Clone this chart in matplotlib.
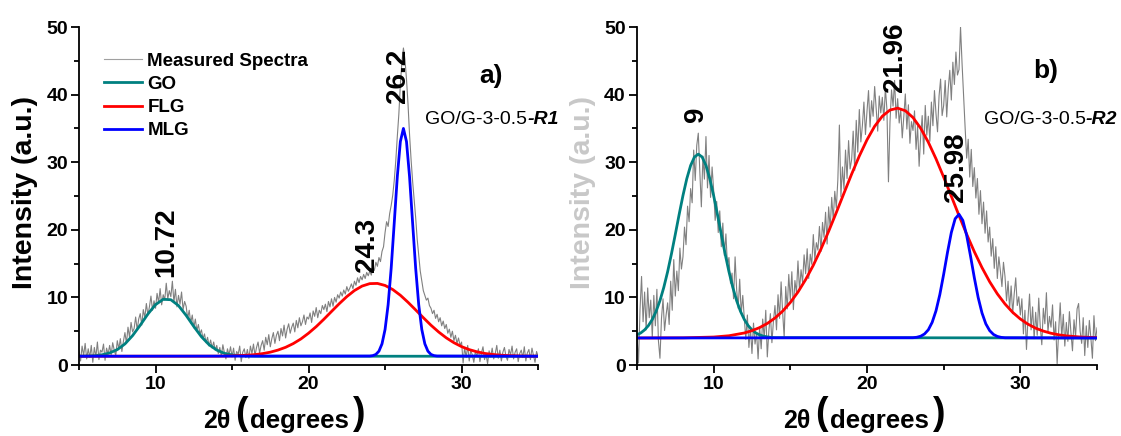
import numpy as np
import matplotlib
matplotlib.use('Agg')
import matplotlib.pyplot as plt
from matplotlib.ticker import MultipleLocator

plt.rcParams['font.family'] = ['Liberation Sans', 'DejaVu Sans']
plt.rcParams['font.weight'] = 'bold'

# 2theta sampling of the measured spectra (0.1 deg steps)
two_theta = np.linspace(5, 35, 301)

# measured spectra, sample R1 (one row per degree)
spec_a = [
    2.1, 0.6, 2.8, 1.4, 3.2, 0.9, 2.4, 1.1, 2.9, 0.4,
    2.6, 1.2, 3.4, 0.8, 2.2, 1.9, 3.1, 0.7, 2.5, 1.6,
    2.9, 1.5, 3.3, 2.2, 1.4, 3.6, 2.4, 3.9, 2.0, 3.5,
    4.8, 3.2, 5.6, 4.1, 6.3, 4.9, 5.4, 7.1, 5.2, 6.8,
    7.6, 5.9, 8.2, 7.0, 9.1, 7.4, 8.6, 10.2, 8.1, 9.5,
    8.4, 10.6, 9.2, 11.3, 8.9, 10.4, 9.6, 12.1, 9.8, 11.0,
    10.1, 12.4, 9.3, 11.2, 8.6, 10.3, 9.0, 10.8, 8.2, 9.4,
    8.7, 6.9, 8.1, 6.2, 7.4, 5.5, 6.8, 5.1, 6.0, 4.6,
    5.2, 3.9, 4.6, 3.3, 4.1, 2.8, 3.7, 2.5, 3.4, 2.2,
    2.9, 1.7, 2.6, 1.3, 3.0, 1.8, 0.9, 2.4, 1.5, 2.7,
    1.2, 2.5, 0.7, 2.0, 1.6, 2.8, 0.5, 1.9, 2.4, 1.1,
    2.3, 1.0, 2.8, 1.7, 3.1, 1.4, 2.6, 3.4, 1.8, 2.9,
    3.6, 2.2, 4.1, 3.0, 4.5, 2.7, 3.9, 4.8, 3.2, 4.4,
    5.0, 3.6, 5.4, 4.3, 5.9, 4.0, 5.3, 6.1, 4.7, 5.6,
    6.2, 4.9, 6.6, 5.5, 7.0, 5.8, 6.4, 7.4, 6.0, 7.1,
    6.8, 7.7, 6.3, 8.0, 7.2, 8.5, 7.0, 8.1, 7.6, 8.8,
    8.2, 9.0, 7.9, 9.4, 8.6, 9.8, 8.7, 10.0, 9.3, 10.4,
    9.9, 10.8, 10.2, 11.1, 10.5, 11.6, 10.9, 11.4, 12.0, 11.3,
    12.4, 11.8, 12.9, 12.2, 13.1, 12.6, 13.4, 12.8, 13.7, 13.2,
    13.9, 13.3, 14.5, 14.0, 15.2, 14.6, 15.9, 15.3, 16.8, 17.5,
    19.6, 21.2, 20.5, 22.4, 23.6, 25.1, 27.3, 30.2, 33.8, 37.1,
    41.5, 44.8, 46.9, 45.2, 42.3, 38.6, 34.1, 30.4, 27.2, 24.5,
    21.8, 18.6, 16.3, 13.9, 12.4, 11.0, 10.3, 9.6, 9.9, 8.8,
    8.4, 7.6, 8.1, 6.9, 7.5, 6.4, 7.0, 5.8, 6.5, 5.4,
    6.0, 4.7, 5.3, 4.1, 5.0, 3.6, 4.4, 3.2, 4.0, 2.9,
    3.4, 0.3, 2.6, 1.1, 2.9, 0.6, 2.2, 1.5, 0.4, 2.0,
    1.3, 2.4, 0.5, 1.8, 2.7, 0.8, 1.6, 0.2, 2.1, 1.2,
    2.5, 0.9, 1.7, 2.9, 1.0, 2.2, 0.6, 1.9, 2.6, 1.3,
    0.7, 2.3, 1.5, 2.8, 0.9, 1.9, 2.4, 0.5, 1.7, 2.2,
    1.1, 2.7, 0.6, 1.8, 2.3, 0.8, 2.5, 1.4, 0.4, 2.0,
    1.3,
]

# measured spectra, sample R2
spec_b = [
    4.5, 0.3, 8.2, 13.1, 6.4, 10.8, 5.2, 11.4, 7.0, 9.6,
    4.1, 10.3, 5.8, 11.2, 3.6, 1.0, 6.9, 9.8, 5.1, 7.4,
    9.2, 6.0, 12.4, 8.1, 15.6, 10.2, 13.9, 11.0, 17.3, 14.2,
    16.0, 20.4, 17.8, 23.5, 21.2, 26.1, 24.0, 31.8, 27.3, 32.5,
    34.3, 28.6, 23.4, 30.9, 27.5, 33.8, 26.2, 31.0, 24.8, 29.3,
    25.9, 21.4, 24.2, 19.6, 22.8, 17.5, 21.0, 16.2, 19.4, 14.8,
    15.9, 12.1, 13.6, 9.8, 16.0, 11.2, 8.4, 12.7, 7.6, 10.3,
    6.9, 3.8, 7.4, 2.6, 5.5, 1.7, 6.2, 3.1, 4.8, 0.9,
    5.6, 2.4, 6.8, 3.9, 8.1, 1.2, 5.0, 7.6, 3.3, 6.5,
    8.8, 5.2, 10.4, 6.9, 12.3, 7.8, 4.1, 11.6, 8.3, 13.4,
    9.6, 13.8, 8.2, 12.5, 10.7, 15.4, 11.0, 14.1, 12.2, 16.3,
    13.5, 17.2, 12.8, 16.4, 14.9, 19.3, 15.6, 18.1, 17.0, 20.5,
    16.8, 21.1, 18.9, 22.6, 17.9, 23.4, 20.2, 24.8, 21.5, 25.7,
    23.2, 27.4, 35.5, 24.9, 29.3, 26.0, 31.8, 27.6, 33.2, 29.0,
    30.4, 34.6, 28.8, 36.2, 31.5, 37.8, 33.0, 35.4, 38.9, 34.1,
    37.5, 40.6, 35.2, 39.1, 36.8, 41.2, 38.0, 34.6, 39.8, 37.3,
    39.6, 36.2, 41.0, 37.8, 27.1, 35.9, 40.7, 38.3, 42.1, 36.5,
    39.4, 35.8, 37.9, 33.6, 36.7, 40.1, 34.9, 38.5, 32.8, 36.0,
    34.7, 37.6, 31.9, 35.3, 29.4, 33.8, 36.9, 31.2, 38.4, 34.0,
    36.8, 33.1, 38.9, 35.4, 40.6, 37.2, 34.5, 39.8, 42.3, 36.9,
    38.4, 42.1, 36.7, 40.9, 43.6, 39.2, 44.8, 41.5, 46.3, 42.9,
    43.7, 50.0, 44.6, 39.8, 35.1, 30.6, 33.4, 27.8, 31.9, 26.4,
    29.2, 24.7, 27.6, 22.3, 25.8, 20.9, 24.1, 19.5, 22.8, 18.2,
    20.4, 16.1, 18.7, 14.3, 17.5, 12.8, 16.0, 13.9, 11.6, 15.2,
    13.1, 9.5, 12.4, 8.3, 11.7, 7.6, 10.5, 12.9, 8.8, 10.1,
    7.4, 9.8, 4.6, 8.1, 2.3, 6.9, 10.5, 5.2, 8.6, 3.9,
    7.8, 4.4, 9.9, 5.7, 3.0, 8.4, 6.1, 10.7, 4.9, 7.2,
    5.6, 8.9, 3.7, 6.4, 0.2, 5.1, 9.2, 4.0, 7.5, 2.8,
    6.3, 3.5, 7.9, 4.8, 2.1, 6.7, 4.2, 8.3, 9.1, 5.0,
    3.2, 7.0, 1.4, 5.8, 2.6, 6.6, 4.0, 1.0, 7.3, 3.6,
    5.5,
]

# fitted components, sample R1
a_go_x = [5, 5.5, 6, 6.5, 7, 7.5, 8, 8.5, 9, 9.5, 10, 10.5, 11, 11.5, 12, 12.5,
          13, 13.5, 14, 14.5, 15, 15.5, 16, 16.5, 17, 35]
a_go_y = [1.31, 1.33, 1.38, 1.51, 1.78, 2.28, 3.12, 4.35, 5.89, 7.54, 8.93, 9.72,
          9.66, 8.79, 7.34, 5.70, 4.18, 3.00, 2.21, 1.73, 1.49, 1.37, 1.33, 1.31,
          1.30, 1.30]
a_flg_x = [5, 14, 15, 16, 16.5, 17, 17.5, 18, 18.5, 19, 19.5, 20, 20.5, 21, 21.5,
           22, 22.5, 23, 23.5, 24, 24.5, 25, 25.5, 26, 26.5, 27, 27.5, 28, 28.5,
           29, 29.5, 30, 30.5, 31, 31.5, 32, 32.5, 33, 34, 35]
a_flg_y = [1.30, 1.31, 1.35, 1.45, 1.54, 1.69, 1.90, 2.21, 2.62, 3.17, 3.86, 4.71,
           5.68, 6.77, 7.92, 9.06, 10.12, 11.02, 11.68, 12.04, 12.07, 11.77, 11.17,
           10.32, 9.28, 8.15, 7.00, 5.89, 4.89, 4.02, 3.30, 2.72, 2.28, 1.96, 1.72,
           1.57, 1.46, 1.40, 1.33, 1.31]
a_mlg_x = [5, 24.0, 24.2, 24.4, 24.6, 24.8, 25.0, 25.2, 25.4, 25.6, 25.8, 26.0,
           26.2, 26.4, 26.6, 26.8, 27.0, 27.2, 27.4, 27.6, 27.8, 28.0, 28.2, 28.4, 35]
a_mlg_y = [1.30, 1.33, 1.39, 1.57, 2.05, 3.13, 5.26, 8.92, 14.32, 21.03, 27.87,
           33.06, 35.0, 33.06, 27.87, 21.03, 14.32, 8.92, 5.26, 3.13, 2.05, 1.57,
           1.39, 1.33, 1.30]

# fitted components, sample R2
b_go_x = [5, 5.25, 5.5, 5.75, 6, 6.25, 6.5, 6.75, 7, 7.25, 7.5, 7.75, 8, 8.25,
          8.5, 8.75, 9, 9.25, 9.5, 9.75, 10, 10.25, 10.5, 10.75, 11, 11.25, 11.5,
          11.75, 12, 12.25, 12.5, 12.75, 13, 13.25, 13.5, 13.75, 14, 35]
b_go_y = [4.46, 4.75, 5.20, 5.84, 6.74, 7.95, 9.52, 11.48, 13.80, 16.45, 19.32,
          22.26, 25.07, 27.56, 29.52, 30.77, 31.2, 30.77, 29.52, 27.56, 25.07,
          22.26, 19.32, 16.45, 13.80, 11.48, 9.52, 7.95, 6.74, 5.84, 5.20, 4.75,
          4.46, 4.27, 4.16, 4.09, 4.05, 4.00]
b_flg_x = [5, 8, 10, 11, 12, 12.5, 13, 13.5, 14, 14.5, 15, 15.5, 16, 16.5, 17,
           17.5, 18, 18.5, 19, 19.5, 20, 20.5, 21, 21.5, 22, 22.5, 23, 23.5, 24,
           24.5, 25, 25.5, 26, 26.5, 27, 27.5, 28, 28.5, 29, 29.5, 30, 30.5, 31,
           31.5, 32, 32.5, 33, 34, 35]
b_flg_y = [4.00, 4.02, 4.14, 4.33, 4.74, 5.08, 5.54, 6.15, 6.95, 7.97, 9.25, 10.80,
           12.64, 14.76, 17.16, 19.78, 22.56, 25.42, 28.25, 30.92, 33.31, 35.32,
           36.81, 37.72, 38.00, 37.62, 36.61, 35.03, 32.96, 30.51, 27.80, 24.97,
           22.12, 19.35, 16.76, 14.41, 12.32, 10.53, 9.03, 7.79, 6.81, 6.04, 5.45,
           5.02, 4.70, 4.47, 4.31, 4.13, 4.05]
b_mlg_x = [5, 23.0, 23.25, 23.5, 23.75, 24.0, 24.25, 24.5, 24.75, 25.0, 25.25,
           25.5, 25.75, 26.0, 26.25, 26.5, 26.75, 27.0, 27.25, 27.5, 27.75, 28.0,
           28.25, 28.5, 28.75, 29.0, 35]
b_mlg_y = [4.00, 4.04, 4.11, 4.26, 4.59, 5.21, 6.31, 8.02, 10.42, 13.42, 16.66,
           19.60, 21.64, 22.30, 21.40, 19.18, 16.14, 12.91, 9.99, 7.70, 6.09, 5.09,
           4.52, 4.23, 4.09, 4.03, 4.00]

# peak position labels: (text, x, y of label bottom)
peaks_a = [('10.72', 10.7, 13.0), ('24.3', 23.8, 13.8), ('26.2', 25.85, 38.8)]
peaks_b = [('9', 8.85, 36.0), ('21.96', 21.8, 40.4), ('25.98', 25.8, 24.1)]


def style_axes(ax, ylab_color):
    for s in ['top', 'right']:
        ax.spines[s].set_visible(False)
    for s in ['left', 'bottom']:
        ax.spines[s].set_linewidth(1.3)
    ax.set_xlim(5, 35)
    ax.set_ylim(0, 50)
    ax.xaxis.set_major_locator(MultipleLocator(10))
    ax.xaxis.set_minor_locator(MultipleLocator(5))
    ax.yaxis.set_major_locator(MultipleLocator(10))
    ax.yaxis.set_minor_locator(MultipleLocator(5))
    ax.tick_params(which='major', direction='out', length=6, width=1.3,
                   labelsize=14, pad=2)
    ax.tick_params(which='minor', direction='out', length=3.5, width=1.3)
    ax.set_ylabel('Intensity (a.u.)', fontsize=20.5, fontweight='bold', color=ylab_color)
    ax.yaxis.set_label_coords(-0.09, 0.51)


def draw_panel(ax, spec, go, flg, mlg, peaks):
    ax.plot(two_theta, spec, color='#808080', lw=0.8, label='Measured Spectra')
    ax.plot(go[0], go[1], color='#008080', lw=2, label='GO')
    ax.plot(flg[0], flg[1], color='#ff0000', lw=2, label='FLG')
    ax.plot(mlg[0], mlg[1], color='#0000ff', lw=2, label='MLG')
    for s, x, y in peaks:
        ax.text(x, y, s, rotation=90, ha='center', va='bottom',
                fontsize=20, fontweight='bold')


def sample_name(ax, name, tag):
    t = ax.text(0.754, 0.725, name, transform=ax.transAxes, fontsize=14,
                fontweight='normal', ha='left', va='center')
    ax.annotate(tag, xy=(1, 0), xycoords=t, ha='left', va='bottom',
                fontsize=14, fontweight='bold', fontstyle='italic')


def x_label(fig, x0):
    W, H = 1121, 436
    fig.text(x0 / W, (H - 428) / H, '2θ', fontsize=18, fontweight='bold',
             ha='left', va='baseline')
    fig.text((x0 + 38) / W, (H - 414) / H, '(', fontsize=27, fontweight='bold',
             ha='center', va='center')
    fig.text((x0 + 47) / W, (H - 428) / H, 'degrees', fontsize=18.5,
             fontweight='bold', ha='left', va='baseline')
    fig.text((x0 + 155) / W, (H - 414) / H, ')', fontsize=27, fontweight='bold',
             ha='center', va='center')


fig = plt.figure(figsize=(11.21, 4.36), dpi=100)
ax1 = fig.add_axes([0.0705, 0.1628, 0.4095, 0.7752])
ax2 = fig.add_axes([0.5682, 0.1628, 0.4104, 0.7752])

draw_panel(ax1, spec_a, (a_go_x, a_go_y), (a_flg_x, a_flg_y), (a_mlg_x, a_mlg_y), peaks_a)
draw_panel(ax2, spec_b, (b_go_x, b_go_y), (b_flg_x, b_flg_y), (b_mlg_x, b_mlg_y), peaks_b)
style_axes(ax1, 'black')
style_axes(ax2, '#c8c8c8')

leg = ax1.legend(loc='upper left', bbox_to_anchor=(0.055, 0.925), frameon=False,
                 prop={'weight': 'bold', 'size': 13.5}, handlelength=2.0,
                 handletextpad=0.3, labelspacing=0.33, borderpad=0, borderaxespad=0)
leg.get_lines()[0].set_color('#a0a0a0')

ax1.text(0.897, 0.855, 'a)', transform=ax1.transAxes, fontsize=19,
         fontweight='bold', ha='center', va='center')
ax2.text(0.888, 0.871, 'b)', transform=ax2.transAxes, fontsize=19,
         fontweight='bold', ha='center', va='center')
sample_name(ax1, 'GO/G-3-0.5', '-R1')
sample_name(ax2, 'GO/G-3-0.5', '-R2')

x_label(fig, 203)
x_label(fig, 783)

fig.savefig('out.png', dpi=100)
